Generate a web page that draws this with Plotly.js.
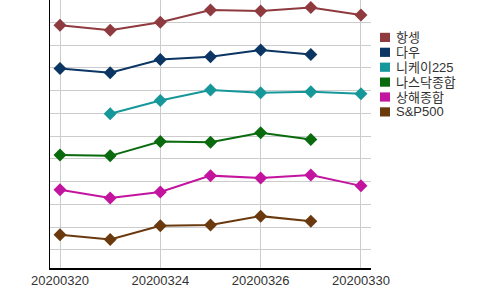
<!DOCTYPE html>
<html><head><meta charset="utf-8">
<script src="https://cdn.plot.ly/plotly-3.0.1.min.js"></script>
<style>html,body{margin:0;padding:0;background:#fff}#chart{width:500px;height:290px}</style>
</head><body><div id="chart"></div>
<script>
const dates = ["20200320","20200323","20200324","20200325","20200326","20200327","20200330"];
const tickDates = ["20200320","20200324","20200326","20200330"];
const seriesNames = ["항셍","다우","니케이225","나스닥종합","상해종합","S&P500"];
const hangseng = [10.87,10.65,11.0,11.54,11.50,11.65,11.32];
const dow = [8.97,8.78,9.36,9.49,9.78,9.58,null];
const nikkei = [null,6.98,7.56,8.02,7.90,7.95,7.86];
const nasdaq = [5.17,5.13,5.76,5.73,6.14,5.85,null];
const shanghai = [3.64,3.28,3.54,4.26,4.16,4.29,3.81];
const sp500 = [1.66,1.45,2.06,2.09,2.48,2.26,null];
const colors = ["#8e3a3f","#0b3563","#16979a","#0a6a0e","#c2149e","#6a3a0e"];
const values = [hangseng,dow,nikkei,nasdaq,shanghai,sp500];

const W = 500, H = 290, ML = 50, MR = 129, MT = 0, MB = 22;
const plotW = W - ML - MR, plotH = H - MT - MB;
const px2x = p => (p - ML) / plotW;
const px2y = p => 1 - (p - MT) / plotH;

const traces = values.map((v,i)=>({x:dates,y:v,type:"scatter",mode:"lines+markers",name:seriesNames[i],
    line:{color:colors[i],width:2},marker:{symbol:"diamond",size:10,color:colors[i]},
    showlegend:false,connectgaps:false,hoverinfo:"skip"}));

// legend drawn as shapes + annotations
const shapes = [], annotations = [];
seriesNames.forEach((n,i)=>{
  const cy = 37.4 + 14.9*i;
  shapes.push({type:"rect",xref:"paper",yref:"paper",x0:px2x(380),x1:px2x(390),y0:px2y(cy-4.6),y1:px2y(cy+4.6),
    fillcolor:colors[i],line:{width:0}});
  annotations.push({xref:"paper",yref:"paper",x:px2x(394),y:px2y(cy),xanchor:"left",yanchor:"middle",
    text:n,showarrow:false,font:{family:"Liberation Sans, Noto Sans CJK KR, sans-serif",size:13,color:"#333"}});
});

const layout = {
  width:W,height:H,
  margin:{l:ML,r:MR,t:MT,b:MB},
  paper_bgcolor:"#fff",plot_bgcolor:"#fff",
  font:{family:"Liberation Sans, Noto Sans CJK KR, sans-serif",size:12,color:"#333"},
  xaxis:{type:"category",categoryorder:"array",categoryarray:dates,range:[-0.2,6.2],
    tickvals:tickDates,ticktext:tickDates,showgrid:true,gridcolor:"#cccccc",
    showline:true,linecolor:"#000",linewidth:1.5,ticks:"",zeroline:false,
    tickfont:{size:13,color:"#333"}},
  yaxis:{range:[0.2,11.98],dtick:1,tick0:0,showticklabels:false,showgrid:true,gridcolor:"#cccccc",
    showline:true,linecolor:"#000",linewidth:1.5,ticks:"",zeroline:false},
  shapes:shapes,annotations:annotations,
  showlegend:false
};
Plotly.newPlot("chart",traces,layout,{displayModeBar:false,staticPlot:true});
</script></body></html>
